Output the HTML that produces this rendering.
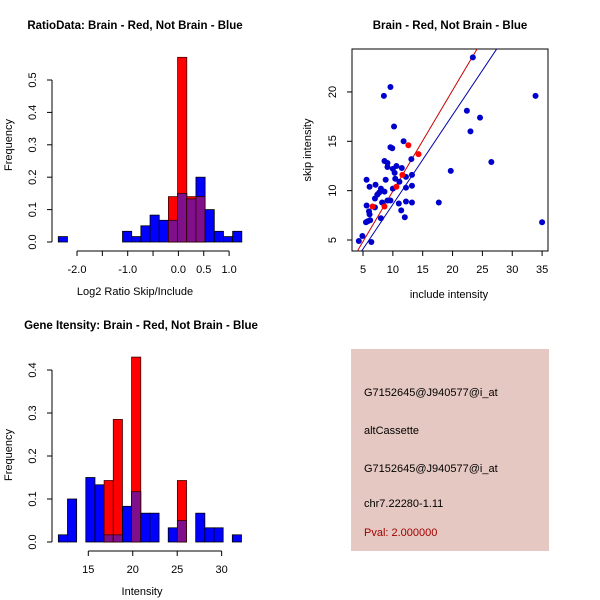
<!DOCTYPE html>
<html><head><meta charset="utf-8"><style>
body{margin:0;background:#fff}
svg{display:block;font-family:"Liberation Sans",sans-serif}
</style></head><body>
<svg id="c" width="600" height="600" xmlns="http://www.w3.org/2000/svg">
<g id="g1"></g>
<g id="g2"></g>
<g id="g3"></g>
<g>
<rect x="351" y="349" width="198" height="202" fill="#e6c8c2"/>
<text x="364" y="396" font-size="11">G7152645@J940577@i_at</text>
<text x="364" y="434" font-size="11">altCassette</text>
<text x="364" y="472" font-size="11">G7152645@J940577@i_at</text>
<text x="364" y="507" font-size="11">chr7.22280-1.11</text>
<text x="364" y="536" font-size="11" fill="#a00000">Pval: 2.000000</text>
</g>
</svg>
<script>
// ---- Histogram 1 data
const ratioBlue = [0.0167,0,0,0,0,0,0,0.033,0.0167,0.05,0.083,0.067,0.067,0.15,0.133,0.2,0.1,0.033,0.0167,0.033];
const ratioRed  = [0,0,0,0,0,0,0,0,0,0,0,0,0.14,0.57,0.14,0.14,0,0,0,0];
const ratioXTicks = [-2.0,-1.0,0.0,0.5,1.0];
const ratioYTicks = [0.0,0.1,0.2,0.3,0.4,0.5];
// ---- Scatter data
const blueX = [4.3,4.9,6.4,5.5,5.8,6.2,6.1,6.0,5.6,7.0,5.6,6.1,7.1,7.0,7.4,7.7,8.0,8.0,8.2,8.6,8.5,9.6,8.6,9.1,9.1,8.8,9.6,9.1,9.6,9.9,10.2,10.0,10.0,10.3,10.4,10.6,11.5,11.8,12.2,12.2,12.2,11.0,11.4,12.0,13.1,13.2,13.2,13.2,17.7,19.7,22.4,24.6,23.0,23.4,26.5,33.9,35.0,11.1];
const blueY = [4.9,5.4,4.8,6.8,6.9,7.0,7.6,7.9,8.5,8.3,11.1,10.4,10.6,9.2,9.6,9.8,10.2,7.2,8.8,9.9,19.6,20.5,13.0,12.4,12.8,11.1,9.0,9.0,14.4,14.3,16.5,12.2,10.2,11.8,11.2,12.5,12.3,15.0,11.4,10.3,8.9,8.7,8.0,7.3,13.2,11.6,10.5,8.8,8.8,12.0,18.1,17.4,16.0,23.5,12.9,19.6,6.8,10.9];
const redX = [6.6,8.6,10.6,11.6,12.6,14.3];
const redY = [8.4,8.4,10.4,11.6,14.6,13.7];
const redFit = [-0.26,1.021];
const blueFit = [-0.44,0.905];
const scXTicks = [5,10,15,20,25,30,35];
const scYTicks = [5,10,15,20];
// ---- Histogram 3 data
const intBlue = [0.0167,0.1,0,0.15,0.133,0.0167,0.0167,0.083,0.117,0.067,0.067,0,0.033,0.05,0,0.067,0.033,0.033,0,0.0167];
const intRed  = [0,0,0,0,0,0.143,0.285,0,0.43,0,0,0,0,0.143,0,0,0,0,0,0];
const intXTicks = [15,20,25,30];
const intYTicks = [0.0,0.1,0.2,0.3,0.4];

const NS='http://www.w3.org/2000/svg';
function mk(p,tag,a){const e=document.createElementNS(NS,tag);for(const k in a)e.setAttribute(k,a[k]);p.appendChild(e);return e;}
function txt(p,x,y,s,size,extra){const t=mk(p,'text',Object.assign({x:x,y:y,'font-size':size,'text-anchor':'middle'},extra||{}));t.textContent=s;return t;}

function histo(g,o){
  const sx=v=>o.x0+(v-o.xv0)*o.xs, sy=v=>o.y0-v*o.ys;
  const t=txt(g,o.tx,o.ty,o.title,11.5,{'font-weight':'bold'});
  
  for(let i=0;i<o.blue.length;i++){
    const a=o.start+i*o.bw, xL=sx(a), xR=sx(a+o.bw);
    const b=o.blue[i], r=o.red[i];
    if(b>0){const e=mk(g,'rect',{x:xL,y:sy(b),width:xR-xL,height:sy(0)-sy(b),fill:'#0000ff',stroke:'#000','stroke-width':0.8});
      }
    if(r>0){const e=mk(g,'rect',{x:xL,y:sy(r),width:xR-xL,height:sy(0)-sy(r),fill:'#ff0000',stroke:'#400','stroke-width':0.8});
      
      const m=Math.min(b,r);
      if(m>0){const p=mk(g,'rect',{x:xL,y:sy(m),width:xR-xL,height:sy(0)-sy(m),fill:'#7f0f8a',stroke:'#300','stroke-width':0.8});
        }}
  }
  const ax=o.xt, ay=o.axY;
  const xl=mk(g,'line',{x1:sx(ax[0]),x2:sx(ax[ax.length-1]),y1:ay,y2:ay,stroke:'#000'});
  
  (o.xtickAll||ax).forEach(v=>mk(g,'line',{x1:sx(v),x2:sx(v),y1:ay,y2:ay+5,stroke:'#000'}));
  ax.forEach(v=>{const t=txt(g,sx(v),ay+22,v.toFixed(o.xd),11);});
  const yt=o.yt, yx=52;
  const yl=mk(g,'line',{x1:yx,x2:yx,y1:sy(yt[0]),y2:sy(yt[yt.length-1]),stroke:'#000'});
  
  yt.forEach(v=>{mk(g,'line',{x1:yx-5,x2:yx,y1:sy(v),y2:sy(v),stroke:'#000'});
    const t=txt(g,36,sy(v),v.toFixed(1),11,{transform:`rotate(-90 36 ${sy(v)})`});
    });
  const xt=txt(g,o.xlx,ay+44,o.xtitle,11);
  const ytl=txt(g,12,o.yly,'Frequency',11,{transform:`rotate(-90 12 ${o.yly})`});
  
}
histo(document.getElementById('g1'),{x0:77,xv0:-2,xs:50.7,y0:242,ys:324,start:-2.369,bw:0.181,
  blue:ratioBlue,red:ratioRed,xt:ratioXTicks,xtickAll:[-2,-1.5,-1,-0.5,0,0.5,1],yt:ratioYTicks,axY:251,xd:1,
  title:'RatioData: Brain - Red, Not Brain - Blue',tx:135,ty:29,xtitle:'Log2 Ratio Skip/Include',xlx:135,yly:145});
histo(document.getElementById('g3'),{x0:88.3,xv0:15,xs:8.89,y0:542,ys:430,start:11.63,bw:1.03,
  blue:intBlue,red:intRed,xt:intXTicks,yt:intYTicks,axY:551,xd:0,
  title:'Gene Itensity: Brain - Red, Not Brain - Blue',tx:141,ty:329,xtitle:'Intensity',xlx:142,yly:455});

(function(){
  const g=document.getElementById('g2');
  const sx=v=>363+(v-5)*5.97, sy=v=>240-(v-5)*9.87;
  const t=txt(g,450,29,'Brain - Red, Not Brain - Blue',11.5,{'font-weight':'bold'});
  
  const box=mk(g,'rect',{x:352,y:49,width:196,height:202,fill:'none',stroke:'#000'});
  
  const cp=mk(g,'clipPath',{id:'cp'});mk(cp,'rect',{x:352,y:49,width:196,height:202});
  const inner=mk(g,'g',{'clip-path':'url(#cp)'});
  [[redFit,'#cc0000','fit-line-red'],[blueFit,'#0000aa','fit-line-blue']].forEach(([f,c,n])=>{
    const l=mk(inner,'line',{x1:sx(0),y1:sy(f[0]),x2:sx(40),y2:sy(f[0]+f[1]*40),stroke:c,'stroke-width':1});
    });
  blueX.forEach((x,i)=>{const c=mk(inner,'circle',{cx:sx(x),cy:sy(blueY[i]),r:3,fill:'#0000cc'});
    });
  redX.forEach((x,i)=>{const c=mk(inner,'circle',{cx:sx(x),cy:sy(redY[i]),r:3,fill:'#ff0000'});
    });
  scXTicks.forEach(v=>{mk(g,'line',{x1:sx(v),x2:sx(v),y1:251,y2:256,stroke:'#000'});
    const tt=txt(g,sx(v),273,String(v),11);});
  scYTicks.forEach(v=>{mk(g,'line',{x1:347,x2:352,y1:sy(v),y2:sy(v),stroke:'#000'});
    const tt=txt(g,336,sy(v),String(v),11,{transform:`rotate(-90 336 ${sy(v)})`});
    });
  const xt=txt(g,449,298,'include intensity',11);
  const yt=txt(g,311,150,'skip intensity',11,{transform:'rotate(-90 311 150)'});
  
})();
</script>
</body></html>
